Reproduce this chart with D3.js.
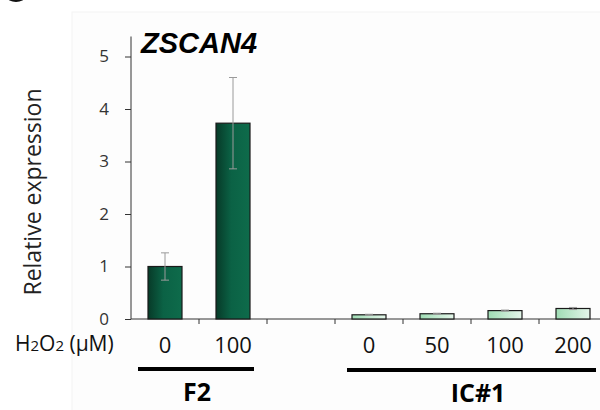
<!DOCTYPE html>
<html>
<head>
<meta charset="utf-8">
<script src="https://cdn.jsdelivr.net/npm/d3@7"></script>
<style>
  body { margin: 0; background: #fff; }
  svg { display: block; font-family: "Open Sans", "Noto Sans", sans-serif; }
</style>
</head>
<body>
<div id="canvas"></div>
<script>
"use strict"

// DATA

let categories = ["F2-0", "F2-100", "gap", "IC-0", "IC-50", "IC-100", "IC-200"];
let doseLabels = ["0", "100", "", "0", "50", "100", "200"];
let values = [1.0, 3.73, null, 0.08, 0.10, 0.16, 0.20];
let errors = [0.26, 0.87, null, 0.01, 0.01, 0.01, 0.02];
let groupOf = ["F2", "F2", "", "IC", "IC", "IC", "IC"];
let yTicks = [0, 1, 2, 3, 4, 5];

// CANVAS

let svgWidth = 600;
let svgHeight = 410;

let svg = d3.select("#canvas")
    .append("svg")
    .attr("width", svgWidth)
    .attr("height", svgHeight);

// faint panel background
svg.append("rect")
    .attr("x", 72)
    .attr("y", 12)
    .attr("width", 540)
    .attr("height", 400)
    .attr("fill", "#fdfdfd")
    .attr("stroke", "#f4f4f4");

// gradients for the two bar colours
let defs = svg.append("defs");

let darkGrad = defs.append("linearGradient").attr("id", "darkGrad");
darkGrad.append("stop").attr("offset", "0%").attr("stop-color", "#073a28");
darkGrad.append("stop").attr("offset", "45%").attr("stop-color", "#0b6245");
darkGrad.append("stop").attr("offset", "100%").attr("stop-color", "#0e6b4b");

let lightGrad = defs.append("linearGradient").attr("id", "lightGrad");
lightGrad.append("stop").attr("offset", "0%").attr("stop-color", "#9fdcb4");
lightGrad.append("stop").attr("offset", "100%").attr("stop-color", "#e4f6ea");

// SCALES

let xScale = d3.scaleBand()
    .domain(categories)
    .range([131, 607])
    .paddingInner(0.5)
    .paddingOuter(0.25);

let yScale = d3.scaleLinear()
    .domain([0, 5])
    .range([319, 56.5]);

// AXES

let yAxis = d3.axisLeft(yScale)
    .tickValues(yTicks)
    .tickSize(6)
    .tickPadding(16)
    .tickFormat(d3.format("d"));

let yG = svg.append("g")
    .attr("transform", "translate(131,0)")
    .call(yAxis);

yG.select(".domain")
    .attr("stroke", "#333")
    .attr("d", "M0," + yScale(0) + "V" + (yScale(5) - 20));

yG.selectAll(".tick line")
    .attr("stroke", "#333")
    .attr("x2", 0)
    .attr("x1", -6);

yG.selectAll(".tick text")
    .attr("fill", "#333")
    .attr("font-family", "'Open Sans', sans-serif")
    .attr("font-size", 17);

// x axis line with ticks between categories
svg.append("line")
    .attr("x1", 131)
    .attr("x2", 600)
    .attr("y1", yScale(0))
    .attr("y2", yScale(0))
    .attr("stroke", "#333");

let step = xScale.step();
for (let i = 1; i < categories.length; i++) {
    let tx = xScale(categories[i]) - (step - xScale.bandwidth()) / 2;
    svg.append("line")
        .attr("x1", tx)
        .attr("x2", tx)
        .attr("y1", yScale(0))
        .attr("y2", yScale(0) + 5)
        .attr("stroke", "#333");
}

// BARS

let barData = categories.map(function (c, i) {
    return { cat: c, value: values[i], err: errors[i], group: groupOf[i] };
}).filter(function (d) {
    return d.value !== null;
});

svg.selectAll(".bar")
    .data(barData)
    .join("rect")
    .attr("class", "bar")
    .attr("x", function (d) { return xScale(d.cat); })
    .attr("y", function (d) { return yScale(d.value); })
    .attr("width", xScale.bandwidth())
    .attr("height", function (d) { return yScale(0) - yScale(d.value); })
    .attr("fill", function (d) { return d.group == "F2" ? "url(#darkGrad)" : "url(#lightGrad)"; })
    .attr("stroke", "#1a1a1a")
    .attr("stroke-width", 1.2);

// ERROR BARS

let errG = svg.selectAll(".err")
    .data(barData)
    .join("g")
    .attr("class", "err")
    .attr("stroke", "#9a9a9a")
    .attr("stroke-width", 1);

errG.append("line")
    .attr("x1", function (d) { return xScale(d.cat) + xScale.bandwidth() / 2; })
    .attr("x2", function (d) { return xScale(d.cat) + xScale.bandwidth() / 2; })
    .attr("y1", function (d) { return yScale(d.value + d.err); })
    .attr("y2", function (d) { return yScale(d.value - d.err); });

errG.each(function (d) {
    let cx = xScale(d.cat) + xScale.bandwidth() / 2;
    let g = d3.select(this);
    [d.value + d.err, d.value - d.err].forEach(function (v) {
        g.append("line")
            .attr("x1", cx - 4)
            .attr("x2", cx + 4)
            .attr("y1", yScale(v))
            .attr("y2", yScale(v));
    });
});

// X LABELS (dose)

svg.selectAll(".dose")
    .data(categories)
    .join("text")
    .attr("class", "dose")
    .attr("x", function (c) { return xScale(c) + xScale.bandwidth() / 2; })
    .attr("y", 353)
    .attr("text-anchor", "middle")
    .attr("fill", "#111")
    .style("font-size", "22px")
    .text(function (c, i) { return doseLabels[i]; });

// H2O2 (µM) label
let h2o2 = svg.append("text")
    .attr("x", 15)
    .attr("y", 351)
    .attr("fill", "#111")
    .style("font-size", "21px");
h2o2.append("tspan").text("H");
h2o2.append("tspan").style("font-size", "15px").text("2");
h2o2.append("tspan").text("O");
h2o2.append("tspan").style("font-size", "15px").text("2");
h2o2.append("tspan").text(" (μM)");

// group underlines and names
let groups = [
    { name: "F2", x1: 138, x2: 254, lineY: 369, labelX: 197, labelY: 401 },
    { name: "IC#1", x1: 347, x2: 596, lineY: 370, labelX: 478, labelY: 402 }
];

groups.forEach(function (g) {
    svg.append("line")
        .attr("x1", g.x1)
        .attr("x2", g.x2)
        .attr("y1", g.lineY)
        .attr("y2", g.lineY)
        .attr("stroke", "#000")
        .attr("stroke-width", 4);
    svg.append("text")
        .attr("x", g.labelX)
        .attr("y", g.labelY)
        .attr("text-anchor", "middle")
        .style("font-size", "25px")
        .style("font-weight", "bold")
        .text(g.name);
});

// Y AXIS LABEL

svg.append("text")
    .attr("transform", "translate(41,192) rotate(-90)")
    .attr("text-anchor", "middle")
    .attr("fill", "#222")
    .style("font-size", "23px")
    .text("Relative expression");

// GENE TITLE

svg.append("text")
    .attr("x", 141)
    .attr("y", 53)
    .style("font-family", "'Liberation Sans', Arial, sans-serif")
    .style("font-size", "29px")
    .style("font-weight", "bold")
    .style("font-style", "italic")
    .text("ZSCAN4");

// panel letter, cut off at the top edge
svg.append("ellipse")
    .attr("cx", 16)
    .attr("cy", -3)
    .attr("rx", 9)
    .attr("ry", 5)
    .attr("fill", "#111");
</script>
</body>
</html>
